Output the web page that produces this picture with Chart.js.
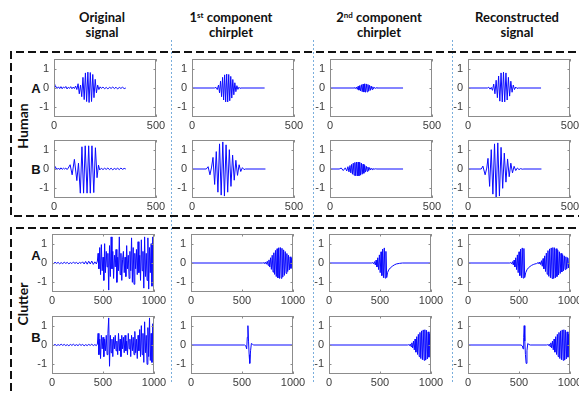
<!DOCTYPE html>
<html>
<head>
<meta charset="utf-8">
<script src="https://cdn.jsdelivr.net/npm/chart.js@4"></script>
<style>
  html, body { margin:0; padding:0; background:#fff; }
  #fig { position:relative; width:579px; height:393px; overflow:hidden; background:#fff; }
  canvas { position:absolute; }
  .hdr { position:absolute; transform:translateX(-50%); text-align:center; font-family:Lato, "Open Sans", sans-serif; font-weight:700; font-size:13px; line-height:15px; color:#111; white-space:nowrap; }
  .hdr sup { font-size:8px; vertical-align:top; position:relative; top:-2px; }
  .row { position:absolute; transform:translate(-50%,-50%); font-family:"Liberation Sans", Arial, sans-serif; font-weight:700; font-size:13px; color:#111; }
  .grp { position:absolute; transform:translate(-50%,-50%) rotate(-90deg); font-family:Lato, sans-serif; font-weight:700; font-size:14px; color:#111; white-space:nowrap; }
  svg { position:absolute; left:0; top:0; }
</style>
</head>
<body>
<div id="fig">
  <svg width="579" height="393">
    <g fill="none" stroke="#7aaedc" stroke-width="1" stroke-dasharray="2,2">
      <line x1="171.5" y1="40" x2="171.5" y2="382"/>
      <line x1="313.5" y1="40" x2="313.5" y2="382"/>
      <line x1="452.5" y1="40" x2="452.5" y2="382"/>
    </g>
    <g fill="none" stroke="#111" stroke-width="2" stroke-dasharray="8,4">
      <polyline points="600,52 11,52 11,216 600,216"/>
      <polyline points="600,228 11,228 11,420"/>
    </g>
  </svg>

  <div class="hdr" style="left:102px; top:10px;">Original<br>signal</div>
  <div class="hdr" style="left:231px; top:10px;">1<sup>st</sup> component<br>chirplet</div>
  <div class="hdr" style="left:379px; top:10px;">2<sup>nd</sup> component<br>chirplet</div>
  <div class="hdr" style="left:517px; top:10px;">Reconstructed<br>signal</div>

  <div class="grp" style="left:22px; top:126px;">Human</div>
  <div class="grp" style="left:22px; top:304px;">Clutter</div>
  <div class="row" style="left:36px; top:88px;">A</div>
  <div class="row" style="left:36px; top:169px;">B</div>
  <div class="row" style="left:36px; top:255px;">A</div>
  <div class="row" style="left:36px; top:337px;">B</div>
</div>

<script>
// ---------------- data (sample index, amplitude) ----------------
const humanTicksX = [0, 500];
const clutterTicksX = [0, 500, 1000];
const ampTicks = [-1, 0, 1];

const humanA_original = [[0,0.18],[4,0.05],[10,0.08],[16,-0.02],[22,0.06],[28,-0.03],[34,0.07],[40,-0.04],[46,0.05],[52,0.0],[58,0.08],[64,-0.05],[70,0.04],[76,-0.02],[82,0.07],[88,-0.04],[94,0.05],[100,-0.03],[106,0.1],[112,-0.08],[118,0.22],[124,-0.3],[130,0.15],[136,-0.45],[142,0.55],[148,-0.6],[154,0.78],[160,-0.7],[166,0.82],[172,-0.75],[178,0.8],[184,-0.7],[190,0.7],[196,-0.5],[202,0.45],[208,-0.25],[214,0.15],[220,-0.08],[226,0.06],[232,-0.02],[240,0.05],[248,-0.04],[256,0.03],[264,-0.05],[272,0.04],[280,-0.02],[288,0.05],[296,-0.03],[304,0.04],[312,-0.05],[320,0.03],[328,-0.02],[336,0.04],[344,-0.03],[352,0.0]];
const humanA_first = [[0,0],[110,0],[118,0.03],[124,-0.08],[130,0.15],[135,-0.25],[140,0.35],[145,-0.45],[150,0.55],[155,-0.62],[160,0.68],[165,-0.72],[170,0.72],[175,-0.72],[180,0.7],[185,-0.66],[190,0.6],[195,-0.52],[200,0.44],[205,-0.35],[210,0.27],[215,-0.19],[220,0.12],[225,-0.07],[230,0.04],[235,-0.02],[240,0],[356,0]];
const humanA_second = [[0,0],[118,0],[122,0.02],[126,-0.03],[130,0.05],[134,-0.07],[138,0.09],[142,-0.11],[146,0.13],[150,-0.15],[154,0.17],[158,-0.19],[162,0.2],[166,-0.21],[170,0.22],[174,-0.22],[178,0.21],[182,-0.2],[186,0.18],[190,-0.16],[194,0.14],[198,-0.12],[202,0.1],[206,-0.08],[210,0.06],[214,-0.04],[218,0.03],[222,-0.02],[226,0.01],[230,0],[358,0]];
const humanA_recon = [[0,0],[95,0],[102,0.04],[108,-0.06],[114,0.03],[120,-0.12],[126,0.2],[132,-0.3],[138,0.4],[144,-0.5],[150,0.62],[156,-0.68],[162,0.78],[168,-0.72],[174,0.82],[180,-0.72],[186,0.78],[192,-0.62],[198,0.55],[204,-0.42],[210,0.35],[216,-0.22],[222,0.15],[228,-0.08],[234,0.05],[240,-0.02],[246,0],[358,0]];

const humanB_original = [[0,0.15],[4,0.04],[10,0.07],[16,-0.02],[22,0.05],[28,-0.03],[34,0.06],[40,-0.02],[46,0.04],[52,0.0],[58,0.05],[64,-0.03],[70,0.05],[79,0.22],[89,-0.3],[100,0.5],[112,-0.6],[120,0.3],[129,-1.25],[137,1.15],[145,-1.25],[153,1.2],[162,-1.25],[170,1.2],[178,-1.25],[186,1.2],[195,-1.22],[203,1.1],[211,-0.45],[218,0.2],[224,-0.05],[232,0.04],[240,-0.03],[248,0.04],[256,-0.02],[264,0.05],[272,-0.03],[280,0.04],[288,-0.04],[296,0.03],[304,-0.02],[312,0.04],[320,-0.03],[328,0.05],[336,-0.02],[344,0.03],[352,0.0]];
const humanB_first = [[0,0],[70,0],[79,0.12],[88,-0.3],[96,0.1],[103,0.6],[111,-0.8],[119,0.9],[127,-1.2],[135,1.3],[143,-1.35],[151,1.4],[159,-1.4],[167,1.25],[175,-1.2],[183,1.0],[191,-0.9],[199,0.72],[207,-0.58],[215,0.45],[223,-0.33],[231,0.22],[239,-0.13],[247,0.07],[255,-0.03],[262,0],[360,0]];
const humanB_second = [[0,0],[45,0],[55,0.05],[65,-0.08],[75,0.06],[82,-0.1],[88,0.12],[93,-0.15],[98,0.18],[102,-0.2],[106,0.24],[110,-0.27],[114,0.3],[118,-0.32],[122,0.34],[126,-0.35],[130,0.36],[134,-0.36],[138,0.36],[142,-0.35],[146,0.34],[150,-0.32],[154,0.3],[158,-0.27],[162,0.25],[166,-0.22],[170,0.19],[174,-0.16],[178,0.14],[182,-0.12],[186,0.1],[190,-0.08],[194,0.07],[198,-0.05],[202,0.04],[206,-0.03],[210,0.02],[216,-0.01],[222,0.01],[230,0],[358,0]];
const humanB_recon = [[0,0],[65,0],[73,0.15],[84,-0.3],[92,0.05],[98,0.55],[106,-0.9],[114,1.0],[122,-1.3],[130,1.3],[138,-1.45],[146,1.35],[154,-1.4],[162,1.12],[170,-1.0],[178,0.82],[186,-0.68],[194,0.52],[202,-0.4],[210,0.3],[218,-0.2],[226,0.14],[234,-0.08],[242,0.05],[250,-0.03],[258,0.02],[266,-0.01],[274,0],[360,0]];

const clutterA_original = [[0,0.02],[15,-0.03],[30,0.04],[45,-0.02],[60,0.03],[75,-0.04],[90,0.02],[105,-0.03],[120,0.04],[135,-0.02],[150,0.03],[165,-0.04],[180,0.02],[195,-0.03],[210,0.05],[225,-0.02],[240,0.03],[255,-0.04],[270,0.03],[285,-0.02],[300,0.06],[315,-0.05],[330,0.08],[345,-0.06],[360,0.09],[375,-0.05],[390,0.1],[405,-0.07],[420,0.06],[435,-0.05],[445,0.1],[452,0.5],[460,-0.3],[468,0.8],[476,-0.6],[484,0.95],[492,-0.4],[500,0.3],[508,-0.9],[516,1.0],[524,-0.5],[532,0.6],[540,-0.2],[548,0.5],[556,-1.4],[564,0.9],[572,-0.7],[580,1.35],[588,-0.3],[596,0.6],[604,-0.8],[612,0.4],[620,-0.2],[628,0.7],[636,-1.0],[644,0.3],[652,-0.4],[660,1.35],[668,-0.6],[676,0.5],[684,-0.9],[692,0.2],[700,0.6],[708,-0.5],[716,0.3],[724,-0.7],[732,0.9],[740,-0.3],[748,0.4],[756,-0.8],[764,0.6],[772,-0.4],[780,1.3],[788,-1.0],[796,0.8],[804,-1.1],[812,0.5],[820,-0.3],[828,0.7],[836,-0.6],[844,1.1],[852,-0.5],[860,0.4],[868,-0.9],[876,1.2],[884,-0.4],[892,0.6],[900,-1.3],[908,1.35],[916,-0.7],[924,0.5],[932,-0.9],[940,1.3],[948,-1.35],[956,0.8],[964,-0.5],[972,1.0],[980,-1.2],[988,1.35],[996,-1.0],[1004,0.6],[1010,-0.3]];
const clutterA_first = [[0,0],[700,0],[716,0.01],[724,-0.02],[732,0.04],[740,-0.06],[748,0.09],[756,-0.12],[764,0.16],[772,-0.21],[780,0.27],[788,-0.33],[796,0.4],[804,-0.47],[812,0.53],[820,-0.59],[828,0.65],[836,-0.7],[844,0.74],[852,-0.77],[860,0.79],[868,-0.8],[876,0.8],[884,-0.79],[892,0.76],[900,-0.72],[908,0.68],[916,-0.64],[924,0.59],[932,-0.54],[940,0.49],[948,-0.44],[956,0.4],[964,-0.36],[972,0.32],[980,-0.28],[988,0.25],[996,-0.22],[1004,0.2]];
const clutterA_second = [[0,0],[420,0],[430,0.02],[438,-0.04],[446,0.07],[454,-0.1],[462,0.15],[470,-0.2],[478,0.27],[486,-0.34],[494,0.42],[502,-0.5],[510,0.58],[518,-0.65],[526,0.72],[534,-0.76],[542,0.78],[550,-0.78],[558,0.6],[566,-0.75],[574,-0.5],[585,-0.36],[600,-0.26],[620,-0.17],[640,-0.1],[660,-0.05],[690,-0.02],[720,0],[1000,0]];
const clutterA_recon = [[0,0],[410,0],[420,0.02],[428,-0.04],[436,0.07],[444,-0.1],[452,0.15],[460,-0.2],[468,0.27],[476,-0.34],[484,0.42],[492,-0.5],[500,0.58],[508,-0.65],[516,0.72],[524,-0.76],[532,0.78],[540,-0.78],[548,0.75],[556,-0.75],[566,-0.5],[578,-0.35],[592,-0.25],[608,-0.18],[624,-0.12],[640,-0.08],[656,-0.05],[672,-0.03],[688,0.02],[696,-0.03],[704,0.05],[712,-0.08],[720,0.12],[728,-0.17],[736,0.23],[744,-0.3],[752,0.37],[760,-0.44],[768,0.51],[776,-0.58],[784,0.64],[792,-0.69],[800,0.73],[808,-0.76],[816,0.78],[824,-0.8],[832,0.8],[840,-0.8],[848,0.79],[856,-0.77],[864,0.74],[872,-0.7],[880,0.66],[888,-0.62],[896,0.58],[904,-0.54],[912,0.5],[920,-0.46],[928,0.43],[936,-0.4],[944,0.37],[952,-0.34],[960,0.32],[968,-0.3],[976,0.28],[984,-0.26],[992,0.25],[1000,-0.24],[1006,0.22]];

const clutterB_original = [[0,0.02],[15,-0.02],[30,0.03],[45,-0.03],[60,0.02],[75,-0.02],[90,0.04],[105,-0.02],[120,0.03],[135,-0.03],[150,0.02],[165,-0.04],[180,0.03],[195,-0.02],[210,0.04],[225,-0.03],[240,0.02],[255,-0.03],[270,0.04],[285,-0.02],[300,0.03],[315,-0.04],[330,0.02],[345,-0.03],[360,0.03],[375,-0.02],[390,0.04],[405,-0.03],[420,0.02],[435,-0.03],[445,0.05],[452,0.6],[460,-0.5],[468,0.3],[476,-0.7],[484,0.5],[492,-0.2],[500,0.4],[508,-0.6],[516,0.3],[524,-0.3],[532,0.5],[540,-0.5],[548,0.6],[556,1.4],[564,-1.1],[572,0.5],[580,-0.4],[588,0.3],[596,-0.6],[604,0.4],[612,-0.2],[620,0.5],[628,-0.3],[636,0.2],[644,-0.5],[652,0.6],[660,-0.3],[668,0.3],[676,-0.6],[684,0.5],[692,-0.2],[700,0.4],[708,-0.4],[716,0.5],[724,-0.3],[732,0.2],[740,-0.5],[748,0.6],[756,-0.2],[764,0.3],[772,-0.6],[780,0.5],[788,-0.3],[796,0.4],[804,-0.5],[812,0.7],[820,-0.4],[828,0.3],[836,-0.7],[844,0.5],[852,-0.3],[860,0.8],[868,-0.6],[876,1.0],[884,-0.5],[892,0.6],[900,-0.9],[908,1.2],[916,-0.4],[924,0.5],[932,-1.0],[940,0.9],[948,-0.6],[956,1.4],[964,-0.8],[972,0.6],[980,-0.9],[988,1.1],[996,-0.5],[1004,0.4],[1010,-0.2]];
const clutterB_first = [[0,0],[525,0],[538,-0.05],[546,-0.2],[552,0.4],[558,1.0],[564,0.2],[570,-0.5],[576,-0.95],[584,-0.3],[592,0.08],[602,0.04],[615,0],[1000,0]];
const clutterB_second = [[0,0],[770,0],[780,0.02],[788,-0.03],[796,0.05],[804,-0.08],[812,0.11],[820,-0.15],[828,0.2],[836,-0.25],[844,0.31],[852,-0.37],[860,0.43],[868,-0.49],[876,0.55],[884,-0.6],[892,0.65],[900,-0.7],[908,0.73],[916,-0.76],[924,0.78],[932,-0.79],[940,0.79],[948,-0.78],[956,0.76],[964,-0.72],[972,0.68],[980,-0.63],[988,0.58],[996,-0.53],[1004,0.48]];
const clutterB_recon = [[0,0],[520,0],[533,-0.05],[540,-0.2],[546,0.4],[551,1.0],[557,0.2],[563,-0.5],[570,-0.95],[578,-0.3],[586,0.08],[596,0.03],[610,0],[770,0],[780,0.02],[788,-0.03],[796,0.05],[804,-0.08],[812,0.11],[820,-0.15],[828,0.2],[836,-0.25],[844,0.31],[852,-0.37],[860,0.43],[868,-0.49],[876,0.55],[884,-0.6],[892,0.65],[900,-0.7],[908,0.73],[916,-0.76],[924,0.78],[932,-0.79],[940,0.79],[948,-0.78],[956,0.76],[964,-0.72],[972,0.68],[980,-0.63],[988,0.56],[996,-0.48],[1004,0.42]];

// ---------------- layout ----------------
const YW = 40, PT = 6, PR = 20, XH = 20, BW = 102, BH = 58;
const panels = [
  {d: humanA_original, L: 54,  T: 59,  xmax: 500,  xt: humanTicksX},
  {d: humanA_first,    L: 192, T: 59,  xmax: 500,  xt: humanTicksX},
  {d: humanA_second,   L: 330, T: 59,  xmax: 500,  xt: humanTicksX},
  {d: humanA_recon,    L: 468, T: 59,  xmax: 500,  xt: humanTicksX},
  {d: humanB_original, L: 54,  T: 140, xmax: 500,  xt: humanTicksX},
  {d: humanB_first,    L: 192, T: 140, xmax: 500,  xt: humanTicksX},
  {d: humanB_second,   L: 330, T: 140, xmax: 500,  xt: humanTicksX},
  {d: humanB_recon,    L: 468, T: 140, xmax: 500,  xt: humanTicksX},
  {d: clutterA_original, L: 52,  T: 234, xmax: 1000, xt: clutterTicksX},
  {d: clutterA_first,    L: 191, T: 234, xmax: 1000, xt: clutterTicksX},
  {d: clutterA_second,   L: 329, T: 234, xmax: 1000, xt: clutterTicksX},
  {d: clutterA_recon,    L: 468, T: 234, xmax: 1000, xt: clutterTicksX},
  {d: clutterB_original, L: 52,  T: 316, xmax: 1000, xt: clutterTicksX},
  {d: clutterB_first,    L: 191, T: 316, xmax: 1000, xt: clutterTicksX},
  {d: clutterB_second,   L: 329, T: 316, xmax: 1000, xt: clutterTicksX},
  {d: clutterB_recon,    L: 468, T: 316, xmax: 1000, xt: clutterTicksX}
];

const framePlugin = {
  id: 'frame',
  afterDatasetsDraw(chart) {
    const {ctx, chartArea: a, scales} = chart;
    const x = scales.x, y = scales.y;
    ctx.save();
    ctx.strokeStyle = '#8c8c8c';
    ctx.lineWidth = 1;
    ctx.strokeRect(a.left + 0.5, a.top + 0.5, a.right - a.left - 1, a.bottom - a.top - 1);
    ctx.beginPath();
    x.ticks.forEach(t => {
      const p = Math.round(x.getPixelForValue(t.value)) + 0.5;
      ctx.moveTo(p, a.bottom); ctx.lineTo(p, a.bottom - 2.5);
      ctx.moveTo(p, a.top); ctx.lineTo(p, a.top + 2.5);
    });
    y.ticks.forEach(t => {
      const p = Math.round(y.getPixelForValue(t.value)) + 0.5;
      ctx.moveTo(a.left, p); ctx.lineTo(a.left + 2.5, p);
      ctx.moveTo(a.right, p); ctx.lineTo(a.right - 2.5, p);
    });
    ctx.stroke();
    ctx.restore();
  }
};

const tickFont = {family: '"Liberation Sans", Arial, sans-serif', size: 11};
const fig = document.getElementById('fig');

panels.forEach(p => {
  const cv = document.createElement('canvas');
  const w = YW + BW + PR, h = PT + BH + XH;
  cv.width = w; cv.height = h;
  cv.style.width = w + 'px'; cv.style.height = h + 'px';
  cv.style.left = (p.L - YW) + 'px';
  cv.style.top = (p.T - PT) + 'px';
  fig.appendChild(cv);
  new Chart(cv, {
    type: 'line',
    data: {
      datasets: [{
        data: p.d.map(v => ({x: v[0], y: v[1]})),
        borderColor: '#0a0aff',
        borderWidth: 1,
        pointRadius: 0,
        tension: 0,
        fill: false
      }]
    },
    options: {
      responsive: false,
      animation: false,
      events: [],
      devicePixelRatio: 1,
      layout: {padding: {top: PT, right: PR, left: 0, bottom: 0}},
      plugins: {legend: {display: false}, tooltip: {enabled: false}},
      scales: {
        x: {
          type: 'linear', min: 0, max: p.xmax,
          grid: {display: false, drawTicks: false, tickLength: 0}, border: {display: false},
          afterBuildTicks: s => { s.ticks = p.xt.map(v => ({value: v})); },
          ticks: {font: tickFont, color: '#3c3c3c', padding: 2, maxRotation: 0, autoSkip: false, callback: v => String(v)},
          afterFit: s => { s.height = XH; s.paddingLeft = 0; s.paddingRight = 0; }
        },
        y: {
          type: 'linear', min: -1.5, max: 1.5,
          grid: {display: false, drawTicks: false, tickLength: 0}, border: {display: false},
          afterBuildTicks: s => { s.ticks = ampTicks.map(v => ({value: v})); },
          ticks: {font: tickFont, color: '#3c3c3c', padding: 5, autoSkip: false, callback: v => String(v)},
          afterFit: s => { s.width = YW; s.paddingTop = 0; s.paddingBottom = 0; }
        }
      }
    },
    plugins: [framePlugin]
  });
});
</script>
</body>
</html>
